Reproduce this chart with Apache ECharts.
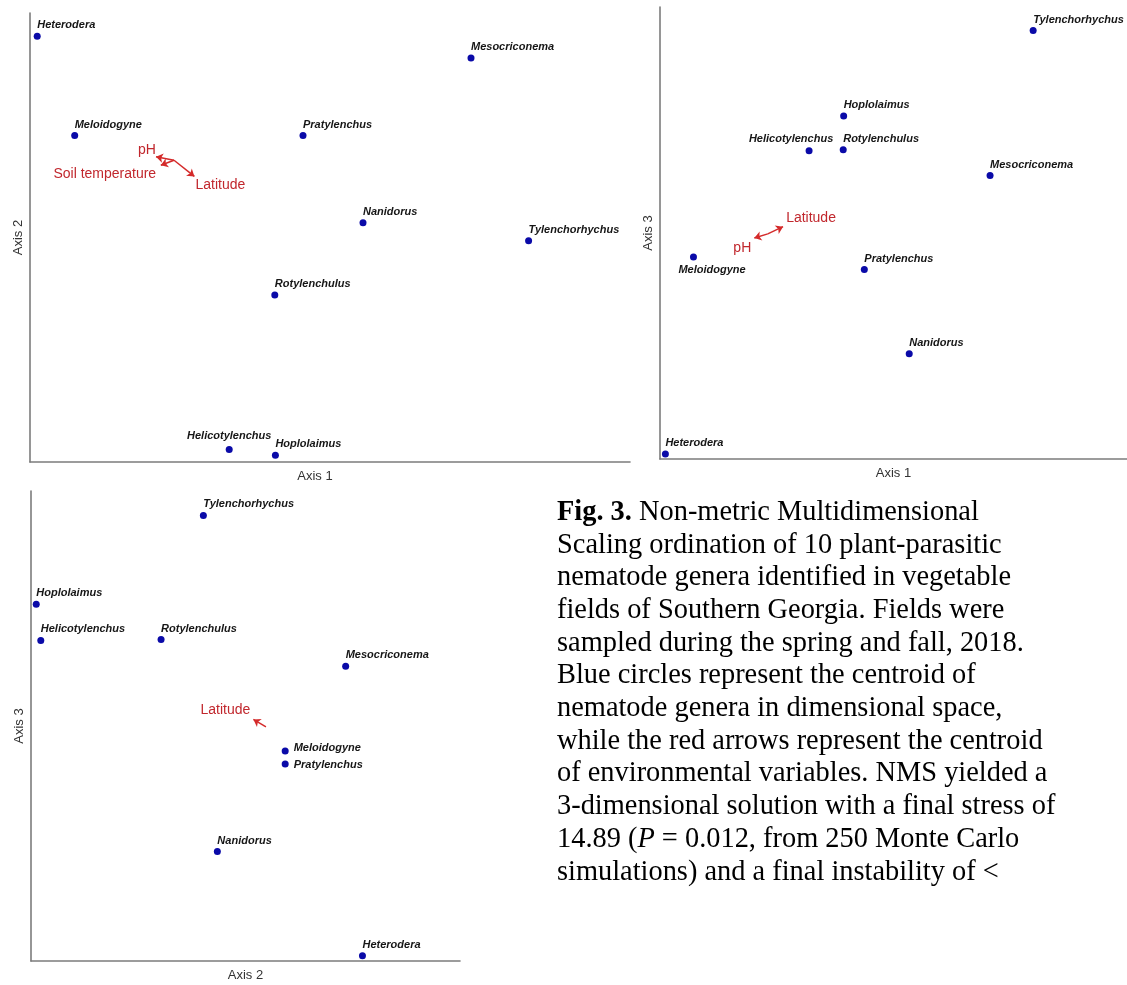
<!DOCTYPE html>
<html>
<head>
<meta charset="utf-8">
<script src="https://cdn.jsdelivr.net/npm/echarts@6/dist/echarts.min.js"></script>
<style>
  html, body { margin: 0; padding: 0; background: #ffffff; }
  #chart { width: 1127px; height: 985px; }
</style>
</head>
<body>
<div id="chart"></div>
<script>
// NMS centroid scores of the nematode genera (relative units on each axis)
const genera = ['Heterodera', 'Meloidogyne', 'Pratylenchus', 'Mesocriconema', 'Nanidorus',
                'Tylenchorhychus', 'Rotylenchulus', 'Helicotylenchus', 'Hoplolaimus'];
const axis1Scores = [1.2, 7.45, 45.5, 73.5, 55.5, 83.1, 40.8, 33.2, 40.9];
const axis2Scores = [94.8, 72.7, 72.7, 90.0, 53.3, 49.3, 37.2, 2.8, 1.5];
const axis3Scores = [1.1, 44.7, 41.9, 62.7, 23.3, 94.8, 68.4, 68.2, 75.9];

// Environmental variables: arrows run from the joint centroid to each variable's tip
const envVariables = ['pH', 'Soil temperature', 'Latitude'];
const envAxis1 = [21.0, 21.8, 27.4];
const envAxis2 = [68.0, 66.1, 63.6];
const envAxis3 = [48.9, null, 51.4];
const envOrigin = { axis1: 24.0, axis2: 67.2, axis3: 49.8 };

const scores = { axis1: axis1Scores, axis2: axis2Scores, axis3: axis3Scores };
const envTips = { axis1: envAxis1, axis2: envAxis2, axis3: envAxis3 };

const DOT = '#0a0aa8';
const RED_LINE = '#d42a2a';
const RED_TEXT = '#c1272d';
const AXIS_GREY = '#7c7c7c';

// One ordination panel per pair of axes
const panels = [
  {
    x: 'axis1', y: 'axis2', xName: 'Axis 1', yName: 'Axis 2', xMax: 100, yMax: 100,
    grid: { left: 30, top: 13, width: 600, height: 449 },
    xNamePad: [0, 30, 0, 0],
    vectors: ['pH', 'Soil temperature', 'Latitude'],
    vectorLabels: { 'pH': [-9, -7], 'Soil temperature': [-56, 9], 'Latitude': [26, 9] },
    labelTweaks: {
      'Helicotylenchus': { align: 'center', offset: [0, -2] }
    }
  },
  {
    x: 'axis1', y: 'axis3', xName: 'Axis 1', yName: 'Axis 3', xMax: 104, yMax: 100,
    grid: { left: 660, top: 7, width: 467, height: 452 },
    xNamePad: [0, 0, 0, 0],
    vectors: ['pH', 'Latitude'],
    vectorLabels: { 'pH': [-12, 10], 'Latitude': [28, -9] },
    labelTweaks: {
      'Helicotylenchus': { align: 'center', offset: [-18, -1] },
      'Meloidogyne': { position: 'bottom', align: 'left', offset: [-15, 2] }
    }
  },
  {
    x: 'axis2', y: 'axis3', xName: 'Axis 2', yName: 'Axis 3', xMax: 122.7, yMax: 100,
    grid: { left: 31, top: 491, width: 429, height: 470 },
    xNamePad: [0, 0, 0, 0],
    vectors: ['Latitude'],
    vectorLabels: { 'Latitude': [-28, -9] },
    labelTweaks: {
      'Meloidogyne': { position: 'right', align: 'left', verticalAlign: 'middle', distance: 5, offset: [0, -3] },
      'Pratylenchus': { position: 'right', align: 'left', verticalAlign: 'middle', distance: 5, offset: [0, 1] }
    }
  }
];

const grids = [], xAxes = [], yAxes = [], series = [];

panels.forEach((p, i) => {
  grids.push(Object.assign({ containLabel: false }, p.grid));
  const axisLine = { show: true, lineStyle: { color: AXIS_GREY, width: 1.6 } };
  const nameStyle = { fontFamily: 'Liberation Sans', fontSize: 13, color: '#333' };
  xAxes.push({
    gridIndex: i, type: 'value', min: 0, max: p.xMax,
    name: p.xName, nameLocation: 'middle', nameGap: 8,
    nameTextStyle: Object.assign({ padding: p.xNamePad, verticalAlign: 'top' }, nameStyle),
    axisLine, axisTick: { show: false }, axisLabel: { show: false }, splitLine: { show: false }
  });
  yAxes.push({
    gridIndex: i, type: 'value', min: 0, max: p.yMax,
    name: p.yName, nameLocation: 'middle', nameGap: 5,
    nameTextStyle: nameStyle,
    axisLine, axisTick: { show: false }, axisLabel: { show: false }, splitLine: { show: false }
  });

  // genus centroids
  series.push({
    type: 'scatter', xAxisIndex: i, yAxisIndex: i,
    symbol: 'circle', symbolSize: 7,
    itemStyle: { color: DOT, opacity: 1 },
    silent: true,
    label: {
      show: true, position: 'top', distance: 1, align: 'left',
      formatter: '{b}',
      fontFamily: 'Liberation Sans', fontSize: 11, fontWeight: 'bold', fontStyle: 'italic',
      color: '#161616', lineHeight: 13
    },
    data: genera.map((g, k) => {
      const item = { name: g, value: [scores[p.x][k], scores[p.y][k]] };
      if (p.labelTweaks[g]) item.label = p.labelTweaks[g];
      return item;
    })
  });

  // environmental vectors
  const shown = p.vectors.map(v => envVariables.indexOf(v));
  series.push({
    type: 'lines', coordinateSystem: 'cartesian2d', xAxisIndex: i, yAxisIndex: i,
    silent: true,
    symbol: ['none', 'arrow'], symbolSize: 7,
    lineStyle: { color: RED_LINE, width: 1.5, opacity: 1 },
    data: shown.map(k => ({
      coords: [[envOrigin[p.x], envOrigin[p.y]], [envTips[p.x][k], envTips[p.y][k]]]
    }))
  });
  series.push({
    type: 'scatter', xAxisIndex: i, yAxisIndex: i,
    symbol: 'circle', symbolSize: 1,
    itemStyle: { color: 'rgba(0,0,0,0)', opacity: 1 }, silent: true,
    label: {
      show: true, position: 'inside', align: 'center', verticalAlign: 'middle',
      formatter: '{b}', fontFamily: 'Liberation Sans', fontSize: 14, color: RED_TEXT
    },
    data: shown.map(k => ({
      name: envVariables[k],
      value: [envTips[p.x][k], envTips[p.y][k]],
      label: { offset: p.vectorLabels[envVariables[k]] }
    }))
  });
});

// Figure caption
const captionLines = [
  '{b|Fig. 3.} Non-metric Multidimensional',
  'Scaling ordination of 10 plant-parasitic',
  'nematode genera identified in vegetable',
  'fields of Southern Georgia. Fields were',
  'sampled during the spring and fall, 2018.',
  'Blue circles represent the centroid of',
  'nematode genera in dimensional space,',
  'while the red arrows represent the centroid',
  'of environmental variables. NMS yielded a',
  '3-dimensional solution with a final stress of',
  '14.89 ({i|P} = 0.012, from 250 Monte Carlo',
  'simulations) and a final instability of <'
];
const CAP_FONT = 28.4, CAP_LH = 32.7;
const capBase = { fontFamily: 'Liberation Serif', fontSize: CAP_FONT, lineHeight: CAP_LH, fill: '#000' };

const chart = echarts.init(document.getElementById('chart'), null, { renderer: 'canvas' });
chart.setOption({
  backgroundColor: '#ffffff',
  animation: false,
  grid: grids,
  xAxis: xAxes,
  yAxis: yAxes,
  series: series,
  graphic: [{
    type: 'text', x: 557, y: 496, silent: true,
    style: Object.assign({
      text: captionLines.join('\n'),
      rich: {
        b: Object.assign({}, capBase, { fontWeight: 'bold' }),
        i: Object.assign({}, capBase, { fontStyle: 'italic' })
      }
    }, capBase)
  }]
});
</script>
</body>
</html>
